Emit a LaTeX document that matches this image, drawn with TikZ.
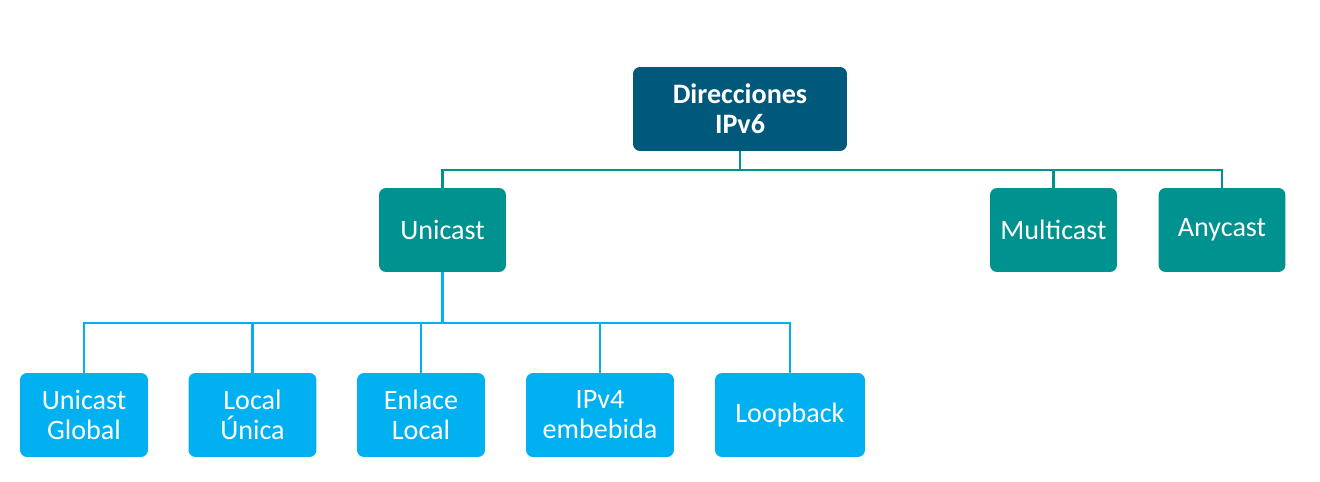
\documentclass[tikz,border=0pt]{standalone}
\usepackage{fontspec}
\setmainfont{Carlito}
\usepackage{tikz}
\usepackage{xcolor}

\definecolor{rootblue}{RGB}{0,88,122}
\definecolor{midteal}{RGB}{0,146,143}
\definecolor{leafblue}{RGB}{0,176,240}

\begin{document}
\begin{tikzpicture}[x=0.02cm, y=-0.02cm,
    box/.style={rounded corners=0.14cm, text=white, align=center, inner sep=0pt,
        minimum height=1.68cm, font=\fontsize{16}{17}\selectfont},
    rootbox/.style={box, fill=rootblue, minimum width=4.28cm, font=\bfseries\fontsize{16}{17}\selectfont},
    midbox/.style={box, fill=midteal, minimum width=2.54cm},
    leafbox/.style={box, fill=leafblue, minimum width=2.56cm},
    midline/.style={draw=midteal, line width=1.2pt},
    leafline/.style={draw=leafblue, line width=1.2pt}]
\useasboundingbox (0,0) rectangle (1320,482);

% top level
\node[rootbox] (root) at (740,109) {Direcciones\\IPv6};

% second level
\node[midbox] (unicast) at (442.5,230) {Unicast};
\node[midbox] (multicast) at (1053.5,230) {Multicast};
\node[midbox] (anycast) at (1222,230) {Anycast};

% third level
\node[leafbox] (global) at (84,415) {Unicast\\Global};
\node[leafbox] (unica) at (252.5,415) {Local\\Única};
\node[leafbox] (enlace) at (421,415) {Enlace\\Local};
\node[leafbox, minimum width=2.96cm] (ipv4) at (600,415) {IPv4\\embebida};
\node[leafbox, minimum width=3.0cm] (loop) at (790,415) {Loopback};

% connectors
\coordinate (hubtop) at (740,170);
\coordinate (hubleaf) at (442.5,323);
\draw[midline] (root.south) -- (hubtop);
\draw[midline] (unicast.north) |- (hubtop) -| (anycast.north);
\draw[midline] (multicast.north) -- (multicast.north |- hubtop);
\draw[leafline] (unicast.south) -- (hubleaf);
\draw[leafline] (global.north) |- (hubleaf) -| (loop.north);
\foreach \n in {unica, enlace, ipv4}
    \draw[leafline] (\n.north) -- (\n.north |- hubleaf);
\end{tikzpicture}
\end{document}
